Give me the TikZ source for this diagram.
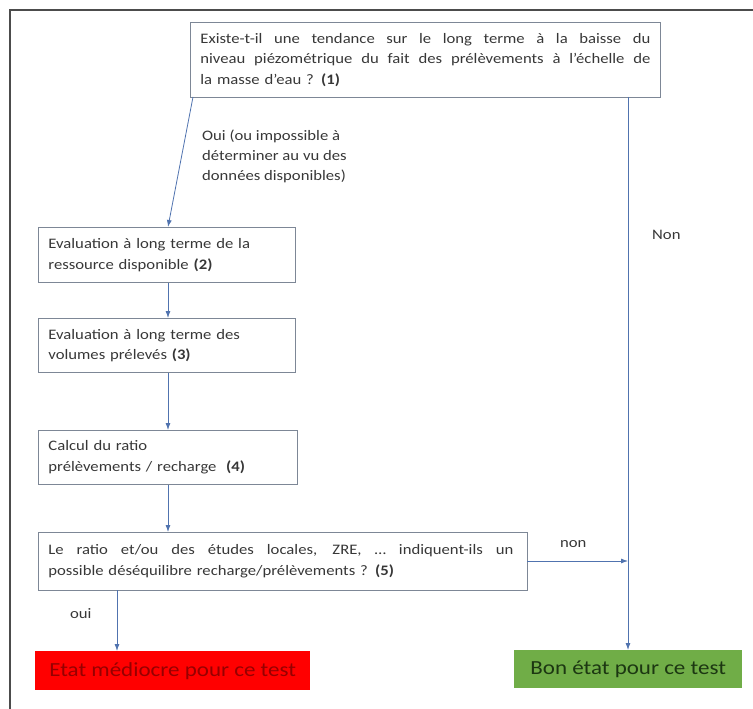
\documentclass[tikz,border=0pt]{standalone}
\usepackage{fontspec}
\setmainfont{Carlito}[FakeStretch=1.15]
\usetikzlibrary{arrows.meta}
\definecolor{boxline}{RGB}{125,135,150}
\definecolor{flowblue}{RGB}{80,115,175}
\definecolor{txtgrey}{RGB}{55,55,55}
\definecolor{badred}{RGB}{255,0,0}
\definecolor{badtext}{RGB}{150,0,0}
\definecolor{goodgreen}{RGB}{112,173,71}
\definecolor{goodtext}{RGB}{28,55,18}
\newcommand{\fullline}[2]{\leavevmode\hbox to #1{\spaceskip=\fontdimen2\font plus 1fil\relax #2}\\}
\tikzset{
  stepbox/.style={draw=boxline,line width=0.8pt,anchor=north west,align=left,
    inner xsep=10pt,inner ysep=4pt,text=txtgrey,font=\fontsize{14.5}{20.5}\selectfont},
  flow/.style={draw=flowblue,line width=0.8pt,-{Latex[length=7pt,width=5pt]}},
  lbl/.style={text=txtgrey,align=left,anchor=north west,inner sep=0pt,
    font=\fontsize{14.5}{20}\selectfont},
  verdict/.style={anchor=north west,inner sep=0pt,font=\fontsize{20}{22}\selectfont}
}
\begin{document}
\begin{tikzpicture}[x=1pt,y=-1pt]
\useasboundingbox (0,0) rectangle (753,709);
\draw[black!70,line width=1.2pt] (10,709) -- (10,10) -- (753,10);

\node[stepbox,minimum width=470pt,minimum height=75pt,text width=450pt] (q1) at (190,22)
  {\fullline{450pt}{Existe-t-il une tendance sur le long terme à la baisse du}
   \fullline{450pt}{niveau piézométrique du fait des prélèvements à l’échelle de}
   la masse d’eau ? \textbf{(1)}};
\node[stepbox,minimum width=257pt,minimum height=55pt,text width=237pt] (q2) at (38,227)
  {Evaluation à long terme de la\\ressource disponible \textbf{(2)}};
\node[stepbox,minimum width=257pt,minimum height=54pt,text width=237pt] (q3) at (38,318)
  {Evaluation à long terme des\\volumes prélevés \textbf{(3)}};
\node[stepbox,minimum width=259pt,minimum height=54pt,text width=239pt] (q4) at (38,430)
  {Calcul du ratio\\prélèvements / recharge \ \textbf{(4)}};
\node[stepbox,minimum width=489pt,minimum height=58pt,text width=469pt] (q5) at (38,532)
  {\fullline{465pt}{Le ratio et/ou des études locales, ZRE, … indiquent-ils un}
   possible déséquilibre recharge/prélèvements ? \textbf{(5)}};

\node[verdict,fill=badred,text=badtext,minimum width=275pt,minimum height=39pt] (bad) at (35,651)
  {Etat médiocre pour ce test};
\node[verdict,fill=goodgreen,text=goodtext,minimum width=228pt,minimum height=38pt] (good) at (514,650)
  {Bon état pour ce test};

\coordinate (q1a) at (193,97);
\coordinate (q1b) at (628,97);
\coordinate (q5a) at (117,590);
\coordinate (q5b) at (527,561);
\coordinate (nonb) at (628,561);

\draw[flow] (q1a) -- (q2.north -| 168,0);
\draw[flow] (q2.south -| 168,0) -- (q3.north -| 168,0);
\draw[flow] (q3.south -| 168,0) -- (q4.north -| 168,0);
\draw[flow] (q4.south -| 168,0) -- (q5.north -| 168,0);
\draw[flow] (q1b) -- (good.north -| q1b);
\draw[flow] (q5b) -- (nonb);
\draw[flow] (q5a) -- (bad.north -| q5a);

\node[lbl] (ouilbl) at (202,130) {Oui (ou impossible à\\déterminer au vu des\\données disponibles)};
\node[lbl] (nonlbl) at (652,230) {Non};
\node[lbl] (nonlbl2) at (560,540) {non};
\node[lbl] (ouilbl2) at (70,608) {oui};
\end{tikzpicture}
\end{document}
